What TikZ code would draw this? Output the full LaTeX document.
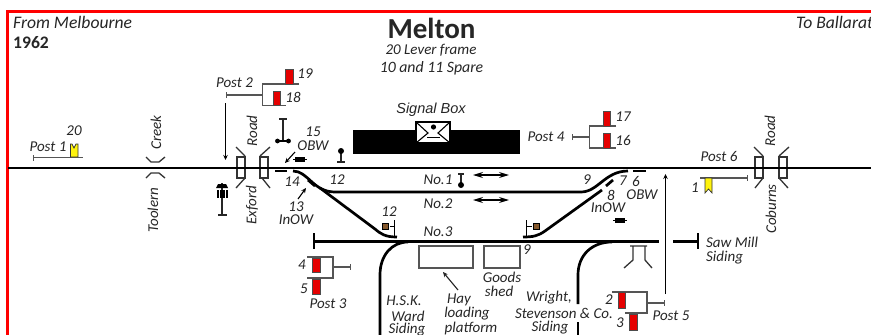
\documentclass[tikz,border=0pt]{standalone}
\usepackage{fontspec}
\setmainfont{Carlito}
\newfontfamily\arialf{Liberation Sans}
\usetikzlibrary{arrows.meta}
\definecolor{ink}{HTML}{262626}
\definecolor{brk}{HTML}{555555}
\tikzset{
 x=1pt,y=-1pt,
 lbl/.style={font=\fontsize{15}{16}\selectfont\itshape,text=ink,inner sep=0pt},
 track/.style={line width=2.7pt,black},
 thinl/.style={line width=1.1pt,ink},
 brack/.style={line width=1.5pt,brk},
 redsig/.style={fill=red!90!black,draw=black!70,line width=.6pt},
 yelsig/.style={fill=yellow!95!white,draw=black!80,line width=.7pt},
 brownsig/.style={fill=brown!70!black,draw=black,line width=.8pt},
 gate/.style={line width=1.3pt,black!80},
 arr/.style={line width=1.1pt,black,-{Stealth[length=5pt,width=4.5pt]}},
 dbl/.style={line width=1.2pt,black,{Stealth[length=10pt,width=6pt]}-{Stealth[length=10pt,width=6pt]}},
 bar/.style={line width=1.4pt,{Bar[width=6pt]}-,black!75},
 shedbox/.style={line width=1.2pt,brk,fill=white},
}
\newcommand{\dumbb}[2]{\fill (#1-5,#2-2.5) rectangle (#1+5,#2+2.5);\draw[line width=.9pt] (#1-7,#2) -- (#1+7,#2);}
\begin{document}
\begin{tikzpicture}
\useasboundingbox (0,0) rectangle (871,335);
\clip (0,0) rectangle (871,335);
\fill[white] (0,0) rectangle (871,335);
\draw[red,line width=3pt] (7.5,335) -- (7.5,11) -- (871,11);

% headings
\node[font=\fontsize{17.6}{18}\selectfont\itshape,text=ink,inner sep=0pt,anchor=west] (from) at (13,22) {From Melbourne};
\node[font=\fontsize{17.6}{18}\selectfont\bfseries,text=ink,inner sep=0pt,anchor=west] (year) at (13,43) {1962};
\node[font=\fontsize{17.6}{18}\selectfont\itshape,text=ink,inner sep=0pt,anchor=west] (to) at (796,22) {To Ballarat};
\node[font=\fontsize{29}{30}\selectfont\bfseries,text=ink,inner sep=0pt] (title) at (431.5,28) {Melton};
\node[lbl] (lever) at (431,50) {20 Lever frame};
\node[lbl,font=\fontsize{15.8}{16}\selectfont\itshape] (spare) at (431.5,68) {10 and 11 Spare};

% main line and tracks
\draw[track] (8,168) -- (871,168);
\draw[track] (275,171) -- (287,171);
\draw[track] (633,171) -- (646,171);
\draw[track,line join=round] (293,171) .. controls (308,171) and (313,192) .. (335,192) -- (581,192) .. controls (598,192) and (605,171) .. (628,171);
\draw[track] (308,180) -- (315,186);
\draw[track] (606,186) -- (613,180);
\draw[track] (320,188) -- (375,229) .. controls (381,234) and (385,237) .. (397,237);
\draw[track] (602,190) -- (545,231) .. controls (538,236) and (533,237) .. (523,237);
\draw[track] (314,241.5) -- (659,241.5);
\draw[line width=2pt,black] (314,233) -- (314,249);
\draw[track] (673,241.5) -- (698,241.5);
\draw[line width=2pt,black] (698,233) -- (698,249);
\draw[track] (380,335) -- (380,275) .. controls (380,255) and (392,242) .. (408,242);
\draw[track] (578,304) -- (578,275) .. controls (578,255) and (592,242) .. (612,242);
\draw[track] (578,322) -- (578,335);

% signal box
\fill[black] (353,130) rectangle (520,154);
\draw[black,fill=white,line width=1.1pt] (416,122) rectangle (450,143);
\draw[line width=1.1pt] (416,122) -- (428,133) -- (416,143) (450,122) -- (438,133) -- (450,143);
\fill (433.5,127) circle (2.6pt);
\draw[line width=1.3pt] (427,137.5) -- (440,137.5);
\node[font=\arialf\fontsize{14.5}{15}\selectfont\itshape,text=ink,inner sep=0pt] (sb) at (431,110) {Signal Box};

% Post 1
\draw[bar,brk] (33,157.5) -- (83,157.5);
\draw[yelsig] (70.5,157) -- (70.5,144) -- (72,144) -- (74,148) -- (76,144) -- (78,144) -- (78,157) -- cycle;
\node[lbl] (p1) at (48,147) {Post 1};
\node[lbl] (n20) at (74,131) {20};

% creek
\draw[gate] (146,157) -- (151,162) -- (159,162) -- (165,157);
\draw[gate] (146,178) -- (151,173) -- (159,173) -- (165,178);
\node[lbl,rotate=90] (creek) at (156,132.5) {Creek};
\node[lbl,rotate=90] (toolern) at (153,210) {Toolern};

% Post 2
\draw[bar,brk] (226,95) -- (262,95);
\draw[brack] (299,84) -- (262.5,84) -- (262.5,105.7) -- (286,105.7);
\draw[redsig] (285,69) rectangle (293,84);
\draw[redsig] (273,91) rectangle (280,105);
\node[lbl] (p2) at (234.5,83) {Post 2};
\node[lbl] (n19) at (305,74) {19};
\node[lbl] (n18) at (293,97) {18};
\draw[arr] (225.5,103) -- (225.5,160);

% Exford Road gates
\draw[gate,fill=white] (237,157) rectangle (245,178);
\draw[gate,fill=white] (260,157) rectangle (268,178);
\draw[track] (8,168) -- (871,168);
\draw[gate] (245,156) -- (236,147) (260,156) -- (270,147) (245,178) -- (236,188) (262,178) -- (270,188);
\node[lbl,rotate=90] (road1) at (252,131) {Road};
\node[lbl,rotate=90] (exford) at (252,205) {Exford};

% dumbbell lamps
\draw[thinl] (222,183) -- (222,215) (218,215) -- (227,215);
\fill (217,190) rectangle (228,198);
\fill (218,184) -- (226,184) -- (228,188) -- (216,188) -- cycle;
\draw[white,line width=.6pt] (219,190) -- (219,198) (225,190) -- (225,198);
\draw[thinl] (283,119) -- (283,141) (279,119) -- (287,119);
\draw[line width=1.2pt] (278,141) -- (288,141);
\fill (277.5,141) circle (2.4pt) (288.5,141) circle (2.4pt);

% 15 OBW
\node[lbl] (n15) at (313,132) {15};
\node[lbl] (obw1) at (313,146) {OBW};
\draw[arr] (295,152) -- (285,163);
\dumbb{300}{159}
\draw[thinl] (341,153) -- (341,162) (337,162) -- (345,162);
\fill (341,151) circle (3pt);

% labels on left junction
\node[lbl] (n14) at (292,182) {14};
\node[lbl] (n12a) at (337,180) {12};
\node[lbl] (n13) at (296,207) {13};
\node[lbl] (inow1) at (296,220) {InOW};
\draw[arr] (298,199) -- (306,188);

% 12 dwarf
\node[lbl] (n12b) at (389,212) {12};
\draw[line width=1pt] (394,220) -- (394,237) (390,226) -- (394,226);
\draw[brownsig] (382,223) rectangle (388,229);
\draw[line width=1pt] (526,220) -- (526,237) (526,226) -- (532,226);
\draw[brownsig] (533,223) rectangle (539,229);

% No labels
\node[lbl] (no1) at (438,180) {No.1};
\node[lbl] (no2) at (438,204) {No.2};
\node[lbl] (no3) at (438,232) {No.3};
\draw[thinl] (461,175) -- (461,183) (458,174) -- (464,174);
\fill (461,185) circle (3pt);
\draw[dbl] (473,175) -- (509,175);
\draw[dbl] (473,200) -- (509,200);

% platforms
\draw[shedbox] (419,246) rectangle (473,268);
\draw[shedbox] (484,246) rectangle (520,268);
\draw[line width=1.1pt,ink,-{Stealth[length=5pt,width=4.5pt]}] (458,290) -- (443,272);
\node[lbl] (n9b) at (527,250) {9};
\node[lbl] (goods) at (502,277) {Goods};
\node[lbl] (shed) at (499,291) {shed};
\node[lbl] (hay) at (459,300) {Hay};
\node[lbl] (loading) at (467,314) {loading};
\node[lbl] (platform) at (471,328) {platform};
\node[lbl] (hsk) at (404,301) {H.S.K.};
\node[lbl] (ward) at (408,316) {Ward};
\node[lbl] (sid1) at (407,330) {Siding};
\node[lbl] (wright) at (549,298) {Wright,};
\node[lbl] (steven) at (564,313) {Stevenson \& Co.};
\node[lbl] (sid2) at (550,328) {Siding};

% Post 3
\draw[brack] (307,257) -- (333,257) -- (333,278) -- (307,278);
\draw[bar,brk] (351,267) -- (333,267);
\draw[redsig] (312,258) rectangle (320,272);
\draw[redsig] (312,279) rectangle (320,294);
\node[lbl] (n4) at (302,265) {4};
\node[lbl] (n5) at (304,289) {5};
\node[lbl] (p3) at (328,304) {Post 3};

% Post 4
\draw[bar,brk] (572,137) -- (590,137);
\draw[brack] (616,126) -- (589.5,126) -- (589.5,148) -- (616,148);
\draw[redsig] (603,111) rectangle (610,126);
\draw[redsig] (603,133) rectangle (610,148);
\node[lbl] (p4) at (546,137) {Post 4};
\node[lbl] (n17) at (623,117) {17};
\node[lbl] (n16) at (623,140) {16};

% right junction labels
\node[lbl] (n9a) at (587,180) {9};
\node[lbl] (n7) at (623,181) {7};
\node[lbl] (n6) at (636,181) {6};
\node[lbl] (obw2) at (642,195) {OBW};
\node[lbl] (n8) at (611,195) {8};
\node[lbl] (inow2) at (608,208) {InOW};
\dumbb{620}{220}

% Post 5
\draw[brack] (612,292) -- (647,292) -- (647,313) -- (625,313);
\draw[bar,brk] (665,303) -- (647,303);
\draw[redsig] (618,292) rectangle (625,308);
\draw[redsig] (629,314) rectangle (637,330);
\node[lbl] (n2) at (609,300) {2};
\node[lbl] (n3) at (620,323) {3};
\node[lbl] (p5) at (671,316) {Post 5};
\draw[arr] (665.5,294) -- (665.5,174);

% buffer thing
\draw[gate] (630,246) -- (647,246) (633,246) -- (633,260) -- (624,268) (645,246) -- (645,260) -- (652,268);

% Saw mill
\node[lbl,anchor=west] (saw) at (706,242) {Saw Mill};
\node[lbl,anchor=west] (sid3) at (706,258) {Siding};

% Post 6
\draw[bar,brk] (748,178) -- (700,178);
\draw[yelsig] (705,178) -- (712,178) -- (712,193) -- (708.5,189) -- (705,193) -- cycle;
\node[lbl] (p6) at (719,156) {Post 6};
\node[lbl] (n1) at (695,188) {1};

% Coburns Road gates
\draw[gate,fill=white] (755,157) rectangle (763,178);
\draw[gate,fill=white] (779,157) rectangle (787,178);
\draw[track] (740,168) -- (871,168);
\draw[gate] (763,156) -- (754,147) (779,156) -- (789,147) (763,178) -- (755,188) (779,178) -- (788,188);
\node[lbl,rotate=90] (road2) at (770,131) {Road};
\node[lbl,rotate=90] (coburns) at (771,209) {Coburns};
\end{tikzpicture}
\end{document}
